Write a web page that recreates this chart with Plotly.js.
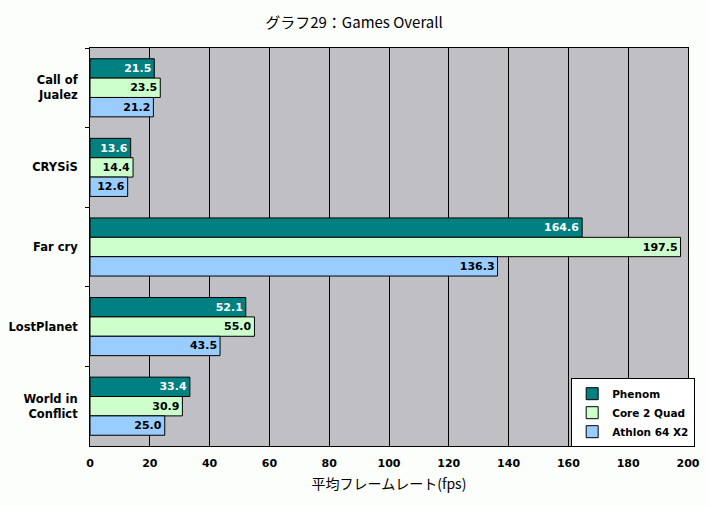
<!DOCTYPE html>
<html>
<head>
<meta charset="utf-8">
<script src="https://cdn.plot.ly/plotly-3.0.1.min.js"></script>
<style>
  html, body { margin: 0; padding: 0; background: #fbfefb; }
  #plot { width: 708px; height: 506px; }
</style>
</head>
<body>
<div id="plot"></div>
<script>
// games, top to bottom
const games = ['Call of<br>Jualez', 'CRYSiS', 'Far cry', 'LostPlanet', 'World in<br>Conflict'];
const phenom = [21.5, 13.6, 164.6, 52.1, 33.4];
const core2Quad = [23.5, 14.4, 197.5, 55.0, 30.9];
const athlonX2 = [21.2, 12.6, 136.3, 43.5, 25.0];
const xTicks = [0, 20, 40, 60, 80, 100, 120, 140, 160, 180, 200];

const font = "'DejaVu Sans', 'Noto Sans CJK JP', sans-serif";
const jpFont = "'Noto Sans CJK JP', 'DejaVu Sans', sans-serif";

const makeBar = (name, values, fill, textColor) => ({
    type: 'bar',
    orientation: 'h',
    name: name,
    x: values,
    y: games,
    marker: { color: fill, line: { color: '#000000', width: 1 } },
    texttemplate: '%{x:.1f}',
    textposition: 'inside',
    insidetextanchor: 'end',
    textangle: 0,
    insidetextfont: { color: textColor, size: 11, family: font, weight: 'bold' },
    constraintext: 'none',
    hoverinfo: 'x+name'
});

const data = [
    makeBar('Phenom', phenom, '#008080', '#ffffff'),
    makeBar('Core 2 Quad', core2Quad, '#ccffcc', '#000000'),
    makeBar('Athlon 64 X2', athlonX2, '#99ccff', '#000000')
];

const layout = {
    width: 708,
    height: 506,
    paper_bgcolor: '#fbfefb',
    plot_bgcolor: '#c0bfc4',
    font: { family: font, size: 11, color: '#000000', weight: 'bold' },
    title: {
        text: 'グラフ29：Games Overall',
        font: { size: 15, family: jpFont, weight: 'normal' },
        x: 0.5,
        xanchor: 'center',
        y: 0.955,
        yanchor: 'middle'
    },
    margin: { l: 90, r: 20, t: 48, b: 60, autoexpand: false },
    barmode: 'group',
    bargap: 0.27,
    bargroupgap: 0,
    showlegend: true,
    legend: {
        x: 1.012,
        y: -0.003,
        xanchor: 'right',
        yanchor: 'bottom',
        bgcolor: '#ffffff',
        bordercolor: '#000000',
        borderwidth: 1,
        font: { size: 10.5, family: font, weight: 'bold' },
        tracegroupgap: 0,
        itemwidth: 30
    },
    xaxis: {
        range: [0, 200],
        tickvals: xTicks,
        ticktext: xTicks.map(String),
        showgrid: true,
        gridcolor: '#000000',
        gridwidth: 1,
        showline: true,
        linecolor: '#000000',
        linewidth: 1,
        mirror: true,
        zeroline: false,
        ticks: '',
        ticklabelstandoff: 7,
        tickfont: { size: 11, family: font, weight: 'bold' },
        title: {
            text: '平均フレームレート(fps)',
            font: { size: 14, family: jpFont, weight: 'normal' },
            standoff: 9
        },
        fixedrange: true
    },
    yaxis: {
        type: 'category',
        autorange: 'reversed',
        showgrid: false,
        showline: true,
        linecolor: '#000000',
        linewidth: 1,
        mirror: true,
        zeroline: false,
        ticks: 'outside',
        tickson: 'boundaries',
        ticklen: 4,
        tickcolor: '#000000',
        ticklabelstandoff: 9,
        tickfont: { size: 11.5, family: font, weight: 'bold' },
        fixedrange: true
    }
};

Plotly.newPlot(document.getElementById('plot'), data, layout, { displayModeBar: false, staticPlot: true });
</script>
</body>
</html>
